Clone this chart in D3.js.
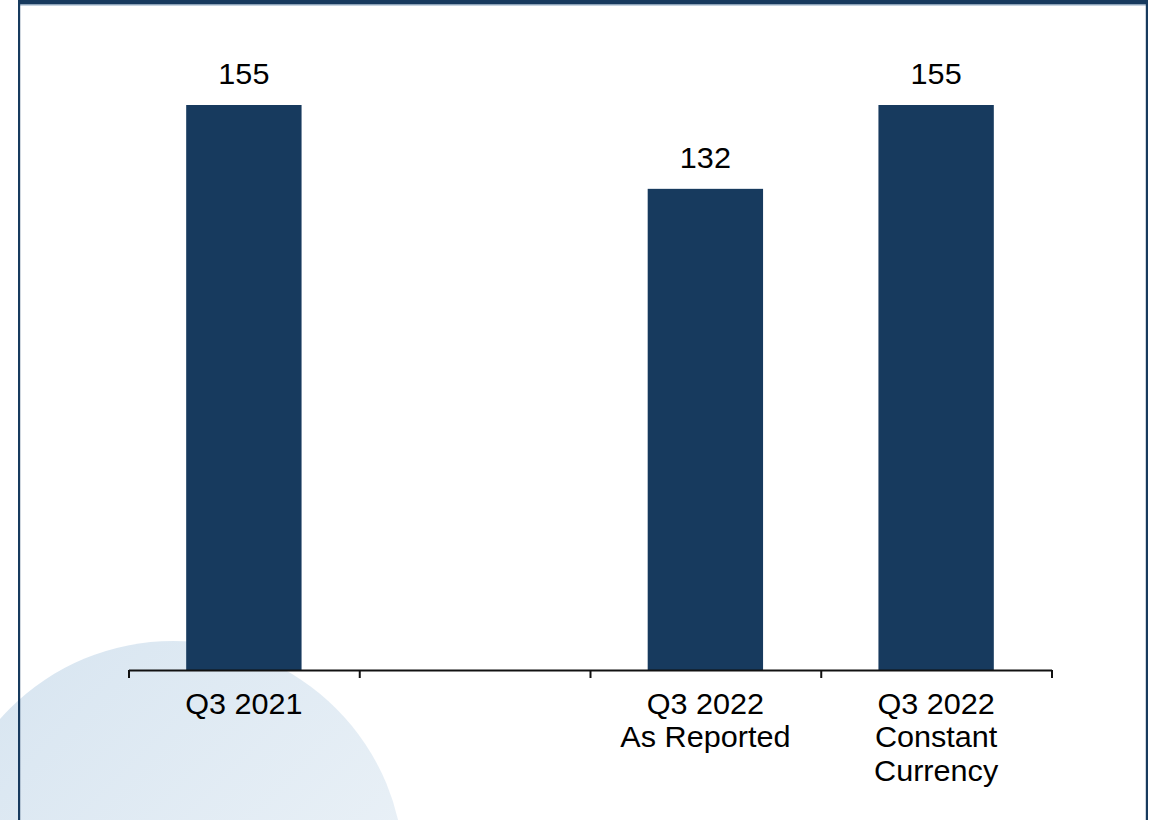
<!DOCTYPE html>
<html>
<head>
<meta charset="utf-8">
<script src="https://cdn.jsdelivr.net/npm/d3@7"></script>
<style>
  html, body { margin: 0; padding: 0; background: #ffffff; }
  svg { display: block; }
  text { font-family: "Liberation Sans", Arial, Helvetica, sans-serif; fill: #000; }
</style>
</head>
<body>
<svg id="chart" width="1152" height="820"></svg>
<script>
// Category slots (second slot is an intentional gap)
const categories = ["q3-2021", "gap", "q3-2022-reported", "q3-2022-cc"];
const categoryLines = [["Q3 2021"], [], ["Q3 2022", "As Reported"], ["Q3 2022", "Constant", "Currency"]];
const values = [155, null, 132, 155];
const valueLabels = ["155", "", "132", "155"];

const W = 1152, H = 820;
const navy = "#173a5e";
const svg = d3.select("#chart");

// Soft background disc with a light diagonal gradient
const defs = svg.append("defs");
const grad = defs.append("linearGradient").attr("id", "discFill")
  .attr("x1", "0%").attr("y1", "0%").attr("x2", "100%").attr("y2", "100%");
grad.append("stop").attr("offset", "0%").attr("stop-color", "#d6e4f0");
grad.append("stop").attr("offset", "100%").attr("stop-color", "#f0f5f9");
svg.append("circle").attr("cx", 173).attr("cy", 872).attr("r", 231).attr("fill", "url(#discFill)");

// Frame: top band and side rules
svg.append("rect").attr("x", 18).attr("y", 0).attr("width", 1130).attr("height", 4.5).attr("fill", navy);
svg.append("rect").attr("x", 18).attr("y", 4.5).attr("width", 1130).attr("height", 1).attr("fill", "#8ea8c2");
svg.append("rect").attr("x", 18).attr("y", 0).attr("width", 2.2).attr("height", H).attr("fill", navy);
svg.append("rect").attr("x", 1145.8).attr("y", 0).attr("width", 2.2).attr("height", H).attr("fill", navy);

// Scales
const x = d3.scaleBand().domain(categories).range([128.5, 1051.5])
  .paddingInner(0.5).paddingOuter(0.25);
const y = d3.scaleLinear().domain([0, 155]).range([670, 105]);

// Bars
const data = categories.map((c, i) => ({ c, v: values[i], label: valueLabels[i], lines: categoryLines[i] }));
svg.append("g").selectAll("rect")
  .data(data.filter(d => d.v != null))
  .join("rect")
  .attr("x", d => x(d.c))
  .attr("y", d => y(d.v))
  .attr("width", x.bandwidth())
  .attr("height", d => y(0) - y(d.v))
  .attr("fill", navy);

// Axis with ticks on the category boundaries
const edges = d3.scaleLinear().domain([0, categories.length]).range(x.range());
const axis = svg.append("g").attr("transform", `translate(0,${y(0)})`)
  .call(d3.axisBottom(edges).tickValues(d3.range(categories.length + 1))
    .tickSize(8).tickSizeOuter(0).tickFormat(""));
axis.select(".domain").attr("stroke", "#111").attr("stroke-width", 2);
axis.selectAll(".tick line").attr("stroke", "#111").attr("stroke-width", 2);

const stretch = 1.02;
const fs = 30;

// Value labels above bars
svg.append("g").selectAll("g")
  .data(data.filter(d => d.v != null))
  .join("g")
  .attr("transform", d => `translate(${x(d.c) + x.bandwidth() / 2},${y(d.v) - 21}) scale(${stretch},1)`)
  .append("text")
  .attr("text-anchor", "middle")
  .attr("font-size", fs)
  .text(d => d.label);

// Category labels below the axis
const cat = svg.append("g").selectAll("g")
  .data(data)
  .join("g")
  .attr("transform", d => `translate(${x(d.c) + x.bandwidth() / 2},714) scale(${stretch},1)`);
cat.selectAll("text")
  .data(d => d.lines)
  .join("text")
  .attr("text-anchor", "middle")
  .attr("font-size", fs)
  .attr("y", (d, i) => i * 33.5)
  .text(d => d);
</script>
</body>
</html>
